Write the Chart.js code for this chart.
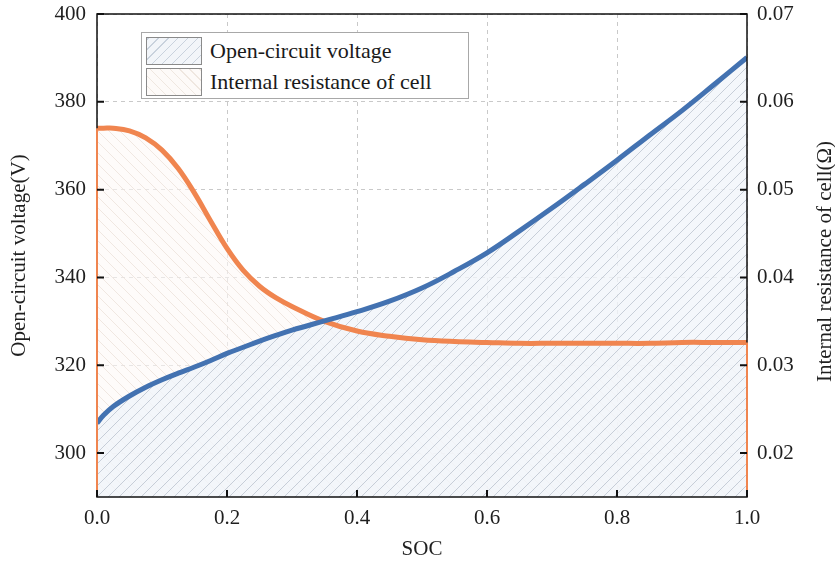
<!DOCTYPE html>
<html>
<head>
<meta charset="utf-8">
<script src="https://cdn.jsdelivr.net/npm/chart.js@4.4.1/dist/chart.umd.min.js"></script>
<style>
  body { margin: 0; background: #fff; }
  #wrap { position: relative; width: 835px; height: 569px; }
  #legend {
    position: absolute; left: 141px; top: 32px; width: 326px; height: 65px;
    border: 1px solid #a8a8a8; background: #fff;
    font-family: 'Liberation Serif', 'Times New Roman', serif; font-size: 22px; color: #1a1a1a;
  }
  .row { position: absolute; left: 4px; height: 28px; line-height: 28px; white-space: nowrap; }
  .sw { display: inline-block; width: 54px; height: 26px; border: 1px solid #8a8a8a; vertical-align: top; margin-right: 8px; }
  .sw.ocv { background: repeating-linear-gradient(-45deg, #f2f5f9 0 6px, #c9d2dd 6px 7px); }
  .sw.res { background: repeating-linear-gradient(45deg, #fdfaf8 0 6px, #efe7e0 6px 7px); }
</style>
</head>
<body>
<div id="wrap">
  <canvas id="chart" width="835" height="569"></canvas>
  <div id="legend">
    <div class="row" style="top:4px"><span class="sw ocv"></span>Open-circuit voltage</div>
    <div class="row" style="top:35px"><span class="sw res"></span>Internal resistance of cell</div>
  </div>
</div>
<script>
(function() {
  'use strict';

  // ── Data ──
  var SOC = [0, 0.01, 0.025, 0.05, 0.075, 0.1, 0.125, 0.15, 0.175, 0.2, 0.225, 0.25, 0.275,
             0.3, 0.35, 0.4, 0.45, 0.5, 0.55, 0.6, 0.65, 0.7, 0.75, 0.8, 0.85, 0.9, 0.95, 1.0];
  var OCV = [306.8, 308.6, 310.6, 313.0, 315.0, 316.7, 318.2, 319.6, 321.1, 322.7, 324.1, 325.5, 326.8,
             328.0, 330.1, 332.2, 334.6, 337.6, 341.4, 345.6, 350.6, 355.8, 361.2, 366.7, 372.4, 378.0, 384.0, 390.1];
  var RES = [0.0570, 0.0570, 0.0570, 0.0567, 0.0559, 0.0545, 0.0524, 0.0496, 0.0464, 0.0433, 0.0408, 0.0390, 0.0377,
             0.0367, 0.0350, 0.0339, 0.0333, 0.0329, 0.0327, 0.0326, 0.0325, 0.0325, 0.0325, 0.0325, 0.0325, 0.0326, 0.0326, 0.0326];

  var VOLT_TICKS = [300, 320, 340, 360, 380, 400];
  var RES_TICKS = [0.02, 0.03, 0.04, 0.05, 0.06, 0.07];

  var BLUE = '#4372b1';
  var ORANGE = '#f0854f';
  var SERIF = "'Liberation Serif', 'Times New Roman', serif";
  var TEXT = '#1f1f1f';

  function pairs(ys) {
    var out = [];
    for (var i = 0; i < SOC.length; i++) out.push({ x: SOC[i], y: ys[i] });
    return out;
  }

  // ── Hatch patterns ──
  function hatch(bg, line, forward) {
    var s = 11;
    var c = document.createElement('canvas');
    c.width = s; c.height = s;
    var g = c.getContext('2d');
    g.fillStyle = bg;
    g.fillRect(0, 0, s, s);
    g.strokeStyle = line;
    g.lineWidth = 1;
    g.beginPath();
    if (forward) {
      g.moveTo(0, s); g.lineTo(s, 0);
      g.moveTo(-1, 1); g.lineTo(1, -1);
      g.moveTo(s - 1, s + 1); g.lineTo(s + 1, s - 1);
    } else {
      g.moveTo(0, 0); g.lineTo(s, s);
      g.moveTo(-1, s - 1); g.lineTo(1, s + 1);
      g.moveTo(s - 1, -1); g.lineTo(s + 1, 1);
    }
    g.stroke();
    return g.createPattern(c, 'repeat');
  }

  var blueFill = hatch('rgba(241,245,250,0.8)', 'rgba(155,166,182,0.5)', true);
  var orangeFill = hatch('rgba(253,249,246,0.6)', 'rgba(232,220,210,0.65)', false);

  // ── Frame, inward ticks, area edges, right title ──
  var framePlugin = {
    id: 'frame',
    afterDatasetsDraw: function(chart) {
      var ctx = chart.ctx, a = chart.chartArea;
      var x = chart.scales.x, y = chart.scales.y, y2 = chart.scales.y2;
      ctx.save();
      ctx.strokeStyle = '#111';
      ctx.lineWidth = 1.5;
      ctx.strokeRect(a.left, a.top, a.right - a.left, a.bottom - a.top);

      // orange area edges at both ends
      ctx.strokeStyle = ORANGE;
      ctx.lineWidth = 2;
      ctx.beginPath();
      var x0 = x.getPixelForValue(SOC[0]), x1 = x.getPixelForValue(SOC[SOC.length - 1]);
      ctx.moveTo(x0, y2.getPixelForValue(RES[0])); ctx.lineTo(x0, a.bottom);
      ctx.moveTo(x1, y2.getPixelForValue(RES[RES.length - 1])); ctx.lineTo(x1, a.bottom);
      ctx.stroke();

      // inward ticks
      ctx.strokeStyle = '#111';
      ctx.lineWidth = 2;
      ctx.beginPath();
      var L = 7;
      x.ticks.forEach(function(t) {
        var px = x.getPixelForValue(t.value);
        ctx.moveTo(px, a.bottom); ctx.lineTo(px, a.bottom - L);
      });
      y.ticks.forEach(function(t) {
        var py = y.getPixelForValue(t.value);
        ctx.moveTo(a.left, py); ctx.lineTo(a.left + L, py);
      });
      y2.ticks.forEach(function(t) {
        var py = y2.getPixelForValue(t.value);
        ctx.moveTo(a.right, py); ctx.lineTo(a.right - L, py);
      });
      ctx.stroke();

      // right axis title, reading bottom to top
      ctx.fillStyle = TEXT;
      ctx.font = '21px ' + SERIF;
      ctx.textAlign = 'center';
      ctx.textBaseline = 'middle';
      ctx.translate(chart.width - 10, (a.top + a.bottom) / 2 + 6);
      ctx.rotate(-Math.PI / 2);
      ctx.fillText('Internal resistance of cell(\u03A9)', 0, 0);
      ctx.restore();
    }
  };

  var tickFont = { family: SERIF, size: 21 };
  var gridColor = '#c9c9c9';

  function noVertPad(s) { s.paddingTop = 0; s.paddingBottom = 0; }

  new Chart(document.getElementById('chart'), {
    type: 'line',
    data: {
      datasets: [
        {
          label: 'Open-circuit voltage',
          data: pairs(OCV),
          yAxisID: 'y',
          borderColor: BLUE,
          borderWidth: 5,
          backgroundColor: blueFill,
          fill: 'start',
          pointRadius: 0,
          tension: 0.4
        },
        {
          label: 'Internal resistance of cell',
          data: pairs(RES),
          yAxisID: 'y2',
          borderColor: ORANGE,
          borderWidth: 5,
          backgroundColor: orangeFill,
          fill: 'start',
          pointRadius: 0,
          tension: 0.4
        }
      ]
    },
    options: {
      responsive: false,
      animation: false,
      layout: { padding: { top: 14, left: 0, right: 0, bottom: 0 } },
      plugins: {
        legend: { display: false },
        tooltip: { enabled: false },
        filler: { drawTime: 'beforeDatasetsDraw' }
      },
      scales: {
        x: {
          type: 'linear',
          min: 0,
          max: 1,
          ticks: {
            stepSize: 0.2,
            padding: 9,
            font: tickFont,
            color: TEXT,
            callback: function(v) { return v.toFixed(1); }
          },
          grid: { color: gridColor, drawTicks: false },
          border: { display: false, dash: [4, 4] },
          title: { display: true, text: 'SOC', font: tickFont, color: TEXT, padding: { top: 0, bottom: 7 } },
          afterFit: function(s) { s.height = 72; s.paddingLeft = 0; s.paddingRight = 0; }
        },
        y: {
          position: 'left',
          min: 290,
          max: 400,
          afterBuildTicks: function(s) {
            s.ticks = VOLT_TICKS.map(function(v) { return { value: v }; });
          },
          ticks: { padding: 11, font: tickFont, color: TEXT },
          grid: { color: gridColor, drawTicks: false },
          border: { display: false, dash: [4, 4] },
          title: { display: true, text: 'Open-circuit voltage(V)', font: tickFont, color: TEXT, padding: { top: 7, bottom: 0 } },
          afterFit: function(s) { s.width = 97; noVertPad(s); }
        },
        y2: {
          position: 'right',
          min: 0.015,
          max: 0.07,
          afterBuildTicks: function(s) {
            s.ticks = RES_TICKS.map(function(v) { return { value: v }; });
          },
          ticks: {
            padding: 10,
            font: tickFont,
            color: TEXT,
            callback: function(v) { return v.toFixed(2); }
          },
          grid: { display: false, drawTicks: false },
          border: { display: false },
          afterFit: function(s) { s.width = 88; noVertPad(s); }
        }
      }
    },
    plugins: [framePlugin]
  });
})();
</script>
</body>
</html>
